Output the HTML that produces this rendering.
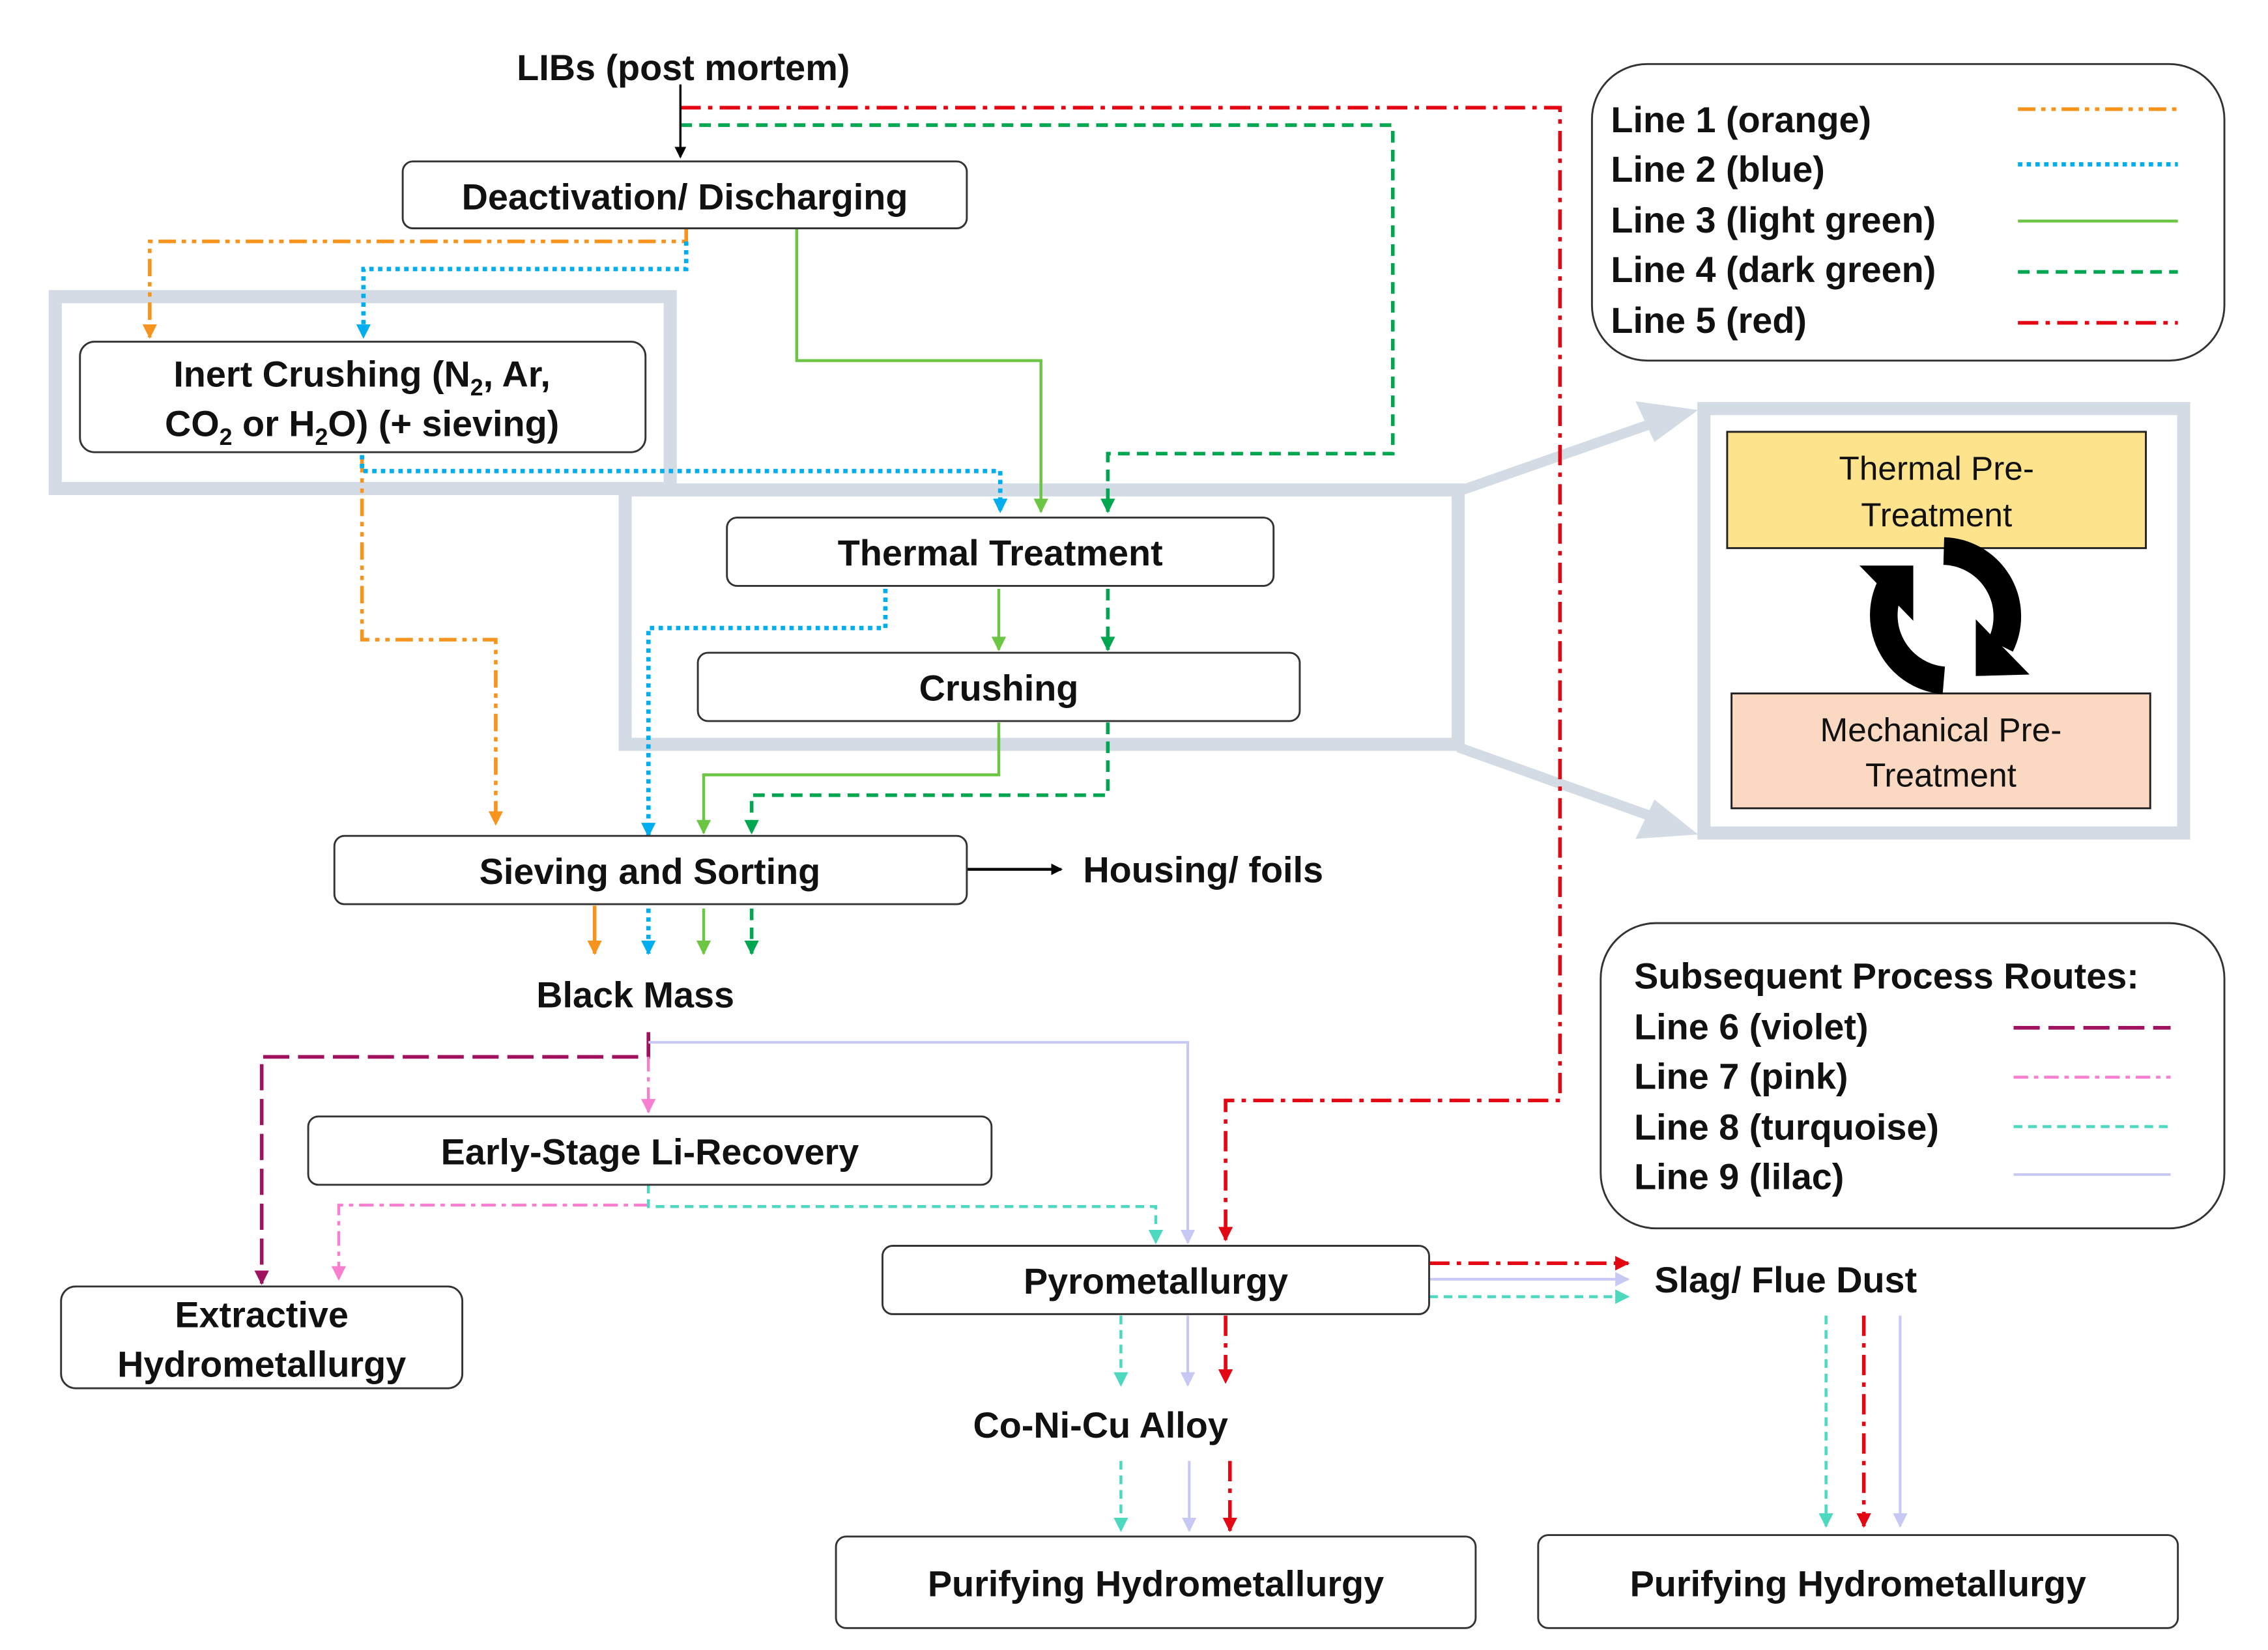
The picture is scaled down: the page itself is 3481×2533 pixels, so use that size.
<!DOCTYPE html>
<html><head><meta charset="utf-8"><style>
html,body{margin:0;padding:0;background:#fff}
svg{display:block}
text{font-family:"Liberation Sans",Arial,sans-serif;font-weight:bold;fill:#111}
</style></head><body>
<svg width="3481" height="2533" viewBox="0 0 1560 1135" xmlns="http://www.w3.org/2000/svg">
<defs>
<marker id="ak" markerWidth="8" markerHeight="8" refX="7" refY="4" orient="auto" markerUnits="userSpaceOnUse"><path d="M0,0L8,4L0,8z" fill="#000"/></marker>
<marker id="ao" markerWidth="10" markerHeight="10" refX="9" refY="5" orient="auto" markerUnits="userSpaceOnUse"><path d="M0,0L10,5L0,10z" fill="#f7941d"/></marker>
<marker id="ab" markerWidth="10" markerHeight="10" refX="9" refY="5" orient="auto" markerUnits="userSpaceOnUse"><path d="M0,0L10,5L0,10z" fill="#00aeef"/></marker>
<marker id="alg" markerWidth="10" markerHeight="10" refX="9" refY="5" orient="auto" markerUnits="userSpaceOnUse"><path d="M0,0L10,5L0,10z" fill="#6cc644"/></marker>
<marker id="adg" markerWidth="10" markerHeight="10" refX="9" refY="5" orient="auto" markerUnits="userSpaceOnUse"><path d="M0,0L10,5L0,10z" fill="#00a650"/></marker>
<marker id="ar" markerWidth="10" markerHeight="10" refX="9" refY="5" orient="auto" markerUnits="userSpaceOnUse"><path d="M0,0L10,5L0,10z" fill="#e30613"/></marker>
<marker id="av" markerWidth="10" markerHeight="10" refX="9" refY="5" orient="auto" markerUnits="userSpaceOnUse"><path d="M0,0L10,5L0,10z" fill="#a0125f"/></marker>
<marker id="ap" markerWidth="10" markerHeight="10" refX="9" refY="5" orient="auto" markerUnits="userSpaceOnUse"><path d="M0,0L10,5L0,10z" fill="#f77fd0"/></marker>
<marker id="at" markerWidth="10" markerHeight="10" refX="9" refY="5" orient="auto" markerUnits="userSpaceOnUse"><path d="M0,0L10,5L0,10z" fill="#4dd9c0"/></marker>
<marker id="al" markerWidth="10" markerHeight="10" refX="9" refY="5" orient="auto" markerUnits="userSpaceOnUse"><path d="M0,0L10,5L0,10z" fill="#c8c8f5"/></marker>
</defs>
<g fill="none">
<rect x="38" y="204" width="423" height="132" stroke="#d3dbe4" stroke-width="9"/>
<rect x="430" y="337" width="573" height="175" stroke="#d3dbe4" stroke-width="9"/>
<rect x="1172" y="281" width="330" height="292" stroke="#d3dbe4" stroke-width="9"/>
<path d="M1003,338L1140,290" stroke="#d3dbe4" stroke-width="7"/><path d="M1125,276L1168,282L1138,304z" fill="#d3dbe4"/>
<path d="M1003,514L1140,563" stroke="#d3dbe4" stroke-width="7"/><path d="M1138,550L1168,574L1125,577z" fill="#d3dbe4"/>

<g stroke="#e30613" stroke-width="2.5" stroke-dasharray="14,5,3,5">
<path d="M468,74H1073V757H843V853" marker-end="url(#ar)"/>
<path d="M983,869H1120" marker-end="url(#ar)"/>
<path d="M843,905V951" marker-end="url(#ar)"/>
<path d="M846,1005V1053" marker-end="url(#ar)"/>
<path d="M1282,905V1050" marker-end="url(#ar)"/>
</g>
<g stroke="#00a650" stroke-width="2.5" stroke-dasharray="8,5">
<path d="M468,86H958V312H762V352" marker-end="url(#adg)"/>
<path d="M762,405V447" marker-end="url(#adg)"/>
<path d="M762,497V547H517V573" marker-end="url(#adg)"/>
<path d="M517,625V656" marker-end="url(#adg)"/>
</g>
<g stroke="#f7941d" stroke-width="2.5" stroke-dasharray="12,4,3,4,3,4">
<path d="M472,157V166H103V232" marker-end="url(#ao)"/>
<path d="M249,313V440H341V567" marker-end="url(#ao)"/>
</g>
<path d="M409,623V656" stroke="#f7941d" stroke-width="2.5" marker-end="url(#ao)"/>
<g stroke="#00aeef" stroke-width="3" stroke-dasharray="3,3">
<path d="M472,166V185H250V232" marker-end="url(#ab)"/>
<path d="M249,313V324H688V352" marker-end="url(#ab)"/>
<path d="M609,405V432H446V575" marker-end="url(#ab)"/>
<path d="M446,625V656" marker-end="url(#ab)"/>
</g>
<g stroke="#6cc644" stroke-width="2">
<path d="M548,157V248H716V352" marker-end="url(#alg)"/>
<path d="M687,405V447" marker-end="url(#alg)"/>
<path d="M687,497V533H484V573" marker-end="url(#alg)"/>
<path d="M484,625V656" marker-end="url(#alg)"/>
</g>
<path d="M468,58V108" stroke="#000" stroke-width="1.5" marker-end="url(#ak)"/>
<path d="M665,598H730" stroke="#000" stroke-width="2" marker-end="url(#ak)"/>
<path d="M446,710V727H180V883" stroke="#a0125f" stroke-width="2.5" stroke-dasharray="18,6" marker-end="url(#av)"/>
<g stroke="#f77fd0" stroke-width="2" stroke-dasharray="10,4,3,4">
<path d="M446,727V765" marker-end="url(#ap)"/>
<path d="M446,829H233V880" marker-end="url(#ap)"/>
</g>
<g stroke="#c8c8f5" stroke-width="1.8">
<path d="M446,717H817V855" marker-end="url(#al)"/>
<path d="M983,880H1120" marker-end="url(#al)"/>
<path d="M817,905V953" marker-end="url(#al)"/>
<path d="M818,1005V1053" marker-end="url(#al)"/>
<path d="M1307,905V1050" marker-end="url(#al)"/>
</g>
<g stroke="#4dd9c0" stroke-width="2" stroke-dasharray="6,4">
<path d="M446,815V830H795V855" marker-end="url(#at)"/>
<path d="M983,892H1120" marker-end="url(#at)"/>
<path d="M771,905V953" marker-end="url(#at)"/>
<path d="M771,1005V1053" marker-end="url(#at)"/>
<path d="M1256,905V1050" marker-end="url(#at)"/>
</g>
</g>

<g fill="#fff" stroke="#333" stroke-width="1.3">
<rect x="277" y="111" width="388" height="46" rx="7"/>
<rect x="55" y="235" width="389" height="76" rx="10"/>
<rect x="500" y="356" width="376" height="47" rx="7"/>
<rect x="480" y="449" width="414" height="47" rx="7"/>
<rect x="230" y="575" width="435" height="47" rx="7"/>
<rect x="212" y="768" width="470" height="47" rx="7"/>
<rect x="42" y="885" width="276" height="70" rx="10"/>
<rect x="607" y="857" width="376" height="47" rx="7"/>
<rect x="575" y="1057" width="440" height="63" rx="7"/>
<rect x="1058" y="1056" width="440" height="64" rx="7"/>
<rect x="1095" y="44" width="435" height="204" rx="38"/>
<rect x="1101" y="635" width="429" height="210" rx="38"/>
</g>
<rect x="1188" y="297" width="288" height="80" fill="#fde38c" stroke="#222" stroke-width="1.3"/>
<rect x="1191" y="477" width="288" height="79" fill="#fbd8c2" stroke="#222" stroke-width="1.3"/>
<g fill="none" stroke="#000" stroke-width="19">
<path d="M1337,468 A45,45 0 0,1 1300,404"/>
<path d="M1337,379 A45,45 0 0,1 1376,444"/>
</g>
<path d="M1279,389L1316,389L1316,427z" fill="#000"/>
<path d="M1359,426L1359,465L1396,464z" fill="#000"/>

<g font-size="25" text-anchor="middle">
<text x="470" y="55">LIBs (post mortem)</text>
<text x="471" y="144">Deactivation/ Discharging</text>
<text x="249" y="266">Inert Crushing (N<tspan font-size="16" dy="6">2</tspan><tspan dy="-6">, Ar,</tspan></text>
<text x="249" y="300">CO<tspan font-size="16" dy="6">2</tspan><tspan dy="-6"> or H</tspan><tspan font-size="16" dy="6">2</tspan><tspan dy="-6">O) (+ sieving)</tspan></text>
<text x="688" y="389">Thermal Treatment</text>
<text x="687" y="482">Crushing</text>
<text x="447" y="608">Sieving and Sorting</text>
<text x="437" y="693">Black Mass</text>
<text x="447" y="801">Early-Stage Li-Recovery</text>
<text x="180" y="913">Extractive</text>
<text x="180" y="947">Hydrometallurgy</text>
<text x="795" y="890">Pyrometallurgy</text>
<text x="757" y="989">Co-Ni-Cu Alloy</text>
<text x="795" y="1098">Purifying Hydrometallurgy</text>
<text x="1278" y="1098">Purifying Hydrometallurgy</text>
</g>
<g font-size="25">
<text x="745" y="607">Housing/ foils</text>
<text x="1138" y="889">Slag/ Flue Dust</text>
<text x="1108" y="91">Line 1 (orange)</text>
<text x="1108" y="125">Line 2 (blue)</text>
<text x="1108" y="160">Line 3 (light green)</text>
<text x="1108" y="194">Line 4 (dark green)</text>
<text x="1108" y="229">Line 5 (red)</text>
<text x="1124" y="680">Subsequent Process Routes:</text>
<text x="1124" y="715">Line 6 (violet)</text>
<text x="1124" y="749">Line 7 (pink)</text>
<text x="1124" y="784">Line 8 (turquoise)</text>
<text x="1124" y="818">Line 9 (lilac)</text>
</g>
<g font-size="23" text-anchor="middle">
<text x="1332" y="330" style="font-weight:normal">Thermal Pre-</text>
<text x="1332" y="362" style="font-weight:normal">Treatment</text>
<text x="1335" y="510" style="font-weight:normal">Mechanical Pre-</text>
<text x="1335" y="541" style="font-weight:normal">Treatment</text>
</g>
<g fill="none" stroke-width="2.5">
<path d="M1388,75H1498" stroke="#f7941d" stroke-dasharray="12,4,3,4,3,4"/>
<path d="M1388,113H1498" stroke="#00aeef" stroke-width="3" stroke-dasharray="3,3"/>
<path d="M1388,152H1498" stroke="#6cc644" stroke-width="2"/>
<path d="M1388,187H1498" stroke="#00a650" stroke-dasharray="8,5"/>
<path d="M1388,222H1498" stroke="#e30613" stroke-dasharray="14,5,3,5"/>
<path d="M1385,707H1493" stroke="#a0125f" stroke-dasharray="18,6"/>
<path d="M1385,741H1493" stroke="#f77fd0" stroke-width="2" stroke-dasharray="10,4,3,4"/>
<path d="M1385,775H1493" stroke="#4dd9c0" stroke-width="2" stroke-dasharray="6,4"/>
<path d="M1385,808H1493" stroke="#c8c8f5" stroke-width="1.8"/>
</g>
</svg>
</body></html>
